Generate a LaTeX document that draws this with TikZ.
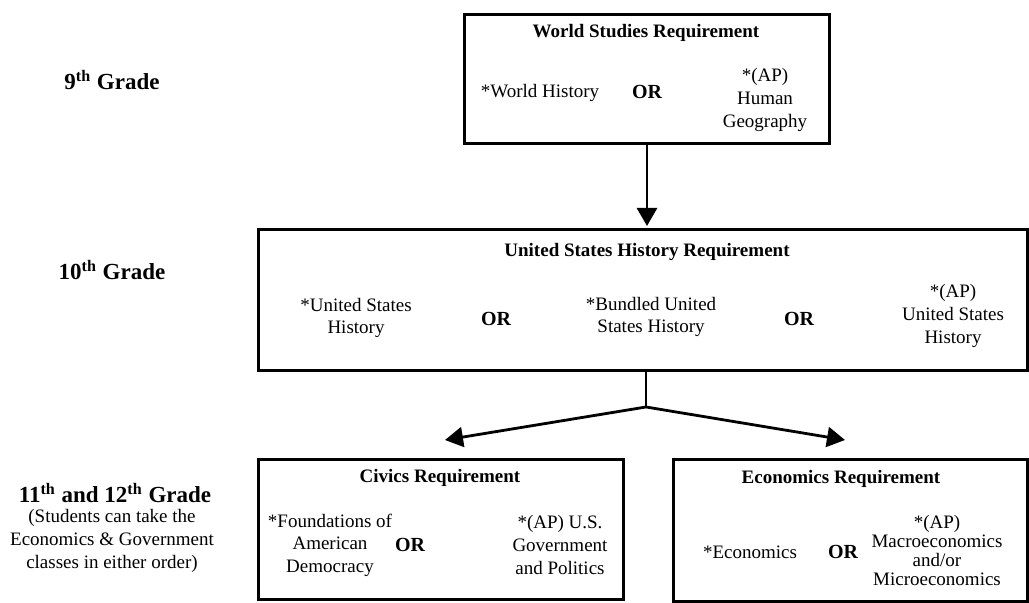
\documentclass[tikz,border=0pt]{standalone}
\usepackage{fontspec}
\setmainfont{Liberation Serif}
\usepackage{tikz}
\usetikzlibrary{positioning,arrows.meta}

\begin{document}
\begin{tikzpicture}[
        x=0.5pt, y=-0.5pt,
        box/.style={
            draw,
            line width=1.6pt,
            rectangle,
            anchor=north west,
            inner sep=0pt
        },
        txt/.style={
            align=center,
            inner sep=1pt,
            font=\fontsize{9.5}{11.3}\selectfont
        },
        head/.style={txt, font=\fontsize{9.5}{11.3}\selectfont\bfseries},
        orword/.style={txt, font=\fontsize{10}{11.3}\selectfont\bfseries},
        grade/.style={align=center, inner sep=1pt, font=\fontsize{11.5}{13}\selectfont\bfseries},
        arrow/.style={-{Triangle[width=10pt,length=9pt]}, line width=1.4pt},
        link/.style={line width=1.4pt}
    ]
    \useasboundingbox (0,0) rectangle (1029,603);

    % Grades
    \node[grade] (g9) at (112,80) {9\textsuperscript{th} Grade};
    \node[grade] (g10) at (112,270) {10\textsuperscript{th} Grade};
    \node[grade] (g11) at (115,493) {11\textsuperscript{th} and 12\textsuperscript{th} Grade};
    \node[txt] (order) at (112,541) {(Students can take the\\Economics \& Government\\classes in either order)};

    % Row 1
    \node[box, minimum width=182.5pt, minimum height=64.5pt] (world) at (463,13) {};
    \node[head] (worldtitle) at (646,33) {World Studies Requirement};
    \node[txt] (worldhist) at (540,93) {*World History};
    \node[orword] (wor) at (647,92) {OR};
    \node[txt] (humgeo) at (765,100) {*(AP)\\Human\\Geography};

    % Row 2
    \node[box, minimum width=384.5pt, minimum height=70.5pt] (ushist) at (257,228) {};
    \node[head] (ustitle) at (647,252) {United States History Requirement};
    \node[txt] (usone) at (356,318) {*United States\\History};
    \node[orword] (uor1) at (496,319) {OR};
    \node[txt] (bundled) at (651,317) {*Bundled United\\States History};
    \node[orword] (uor2) at (799,319) {OR};
    \node[txt] (apus) at (953,316) {*(AP)\\United States\\History};

    % Row 3
    \node[box, minimum width=182.5pt, minimum height=70pt] (civics) at (257,458) {};
    \node[head] (civtitle) at (440,478) {Civics Requirement};
    \node[txt] (found) at (330,545) {*Foundations of\\American\\Democracy};
    \node[orword] (cor) at (410,545) {OR};
    \node[txt] (apgov) at (560,545) {*(AP) U.S.\\Government\\and Politics};

    \node[box, minimum width=177pt, minimum height=71pt] (econ) at (672,458) {};
    \node[head] (ecotitle) at (841,479) {Economics Requirement};
    \node[txt] (ecoone) at (750,552) {*Economics};
    \node[orword] (eor) at (843,552) {OR};
    \node[txt, font=\fontsize{9.5}{9.5}\selectfont] (apecon) at (937,551) {*(AP)\\Macroeconomics\\and/or\\Microeconomics};

    % Arrows
    \coordinate (split) at (646,407);
    \coordinate (civtip) at (445,440);
    \coordinate (ecotip) at (845,440);
    \draw[arrow] (world.south -| wor) -- ([yshift=1pt]ushist.north -| wor);
    \draw[link] (ushist.south -| split) -- (split);
    \draw[arrow] (split) -- (civtip);
    \draw[arrow] (split) -- (ecotip);

\end{tikzpicture}
\end{document}
